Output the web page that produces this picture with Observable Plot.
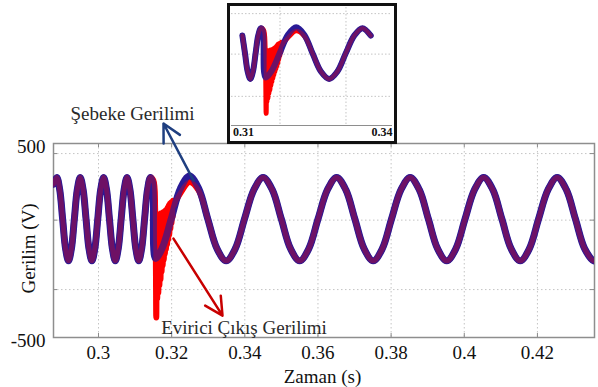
<!DOCTYPE html>
<html><head><meta charset="utf-8">
<script src="https://cdn.jsdelivr.net/npm/d3@7"></script>
<script src="https://cdn.jsdelivr.net/npm/@observablehq/plot@0.6"></script>
<style>
html,body{margin:0;padding:0;background:#fff;}
#wrap{position:relative;width:598px;height:387px;overflow:hidden;}
#main{position:absolute;left:0;top:0;}
#inset{position:absolute;left:227px;top:3px;width:170px;height:141px;box-sizing:border-box;border:3.5px solid #111;background:#fff;}
#inset svg{display:block;}
</style></head><body>
<div id="wrap"><div id="main"></div><div id="inset"></div></div>
<script>
// ---- tick values / labels ----
const xTicks = [0.3, 0.32, 0.34, 0.36, 0.38, 0.4, 0.42];
const xTickLabels = ["0.3", "0.32", "0.34", "0.36", "0.38", "0.4", "0.42"];
const yTicks = [-500, 500];
const yTickLabels = ["-500", "500"];
const gridY = [448, 105, -253];
const insetGridT = [0.32, 0.34];
const insetTickLabels = ["0.31", "0.34"];

// ---- waveform samples (time s, voltage V) ----
// shared part before the transition (both waveforms overlap)
const preT = [0.2877,0.2886,0.2894,0.2902,0.2910,0.2918,0.2926,0.2934,0.2942,0.2950,0.2958,0.2966,0.2974,0.2982,0.2990,0.2998,0.3006,0.3014,0.3022,0.3030,0.3038,0.3046,0.3054,0.3062,0.3070,0.3078,0.3086,0.3094,0.3102,0.3110,0.3118,0.3126,0.3134,0.3142];
const preV = [290,325,262,110,-42,-105,-42,110,262,325,262,110,-42,-105,-42,110,262,325,262,110,-42,-105,-42,110,262,325,262,110,-42,-105,-42,110,262,325];
// grid voltage around the transition
const gridTransT = [0.3148,0.3156,0.3174,0.3199,0.3224,0.3249,0.3274];
const gridTransV = [300,-92,-40,112,268,332,268];
// inverter output around the transition
const invTransT = [0.3150,0.3155,0.3158,0.3159,0.31605,0.3162,0.31635,0.3165,0.31665,0.3168,0.31695,0.3171,0.31725,0.3174,0.31755,0.3177,0.31785,0.3180,0.31815,0.3183,0.31845,0.3186,0.31875,0.3189,0.31905,0.3192,0.31935,0.3195,0.31965,0.3198,0.31995,0.3201,0.32025,0.3204,0.3207,0.3212,0.3224,0.3249,0.3274];
const invTransV = [310,150,-397,130,-300,135,-270,130,-230,135,-200,140,-160,140,-130,145,-100,150,-70,155,-45,160,-20,170,5,180,30,190,60,195,90,200,120,205,180,205,245,302,258];
// shared part after the transition
const postT = [0.3299,0.3324,0.3349,0.3374,0.3399,0.3425,0.3450,0.3475,0.3500,0.3525,0.3550,0.3575,0.3600,0.3626,0.3651,0.3676,0.3701,0.3726,0.3751,0.3776,0.3801,0.3827,0.3852,0.3877,0.3902,0.3927,0.3952,0.3977,0.4002,0.4028,0.4053,0.4078,0.4103,0.4128,0.4153,0.4178,0.4203,0.4229,0.4254,0.4279,0.4304,0.4329,0.4354,0.4360];
const postV = [110,-42,-105,-42,110,262,325,262,110,-42,-105,-42,110,262,325,262,110,-42,-105,-42,110,262,325,262,110,-42,-105,-42,110,262,325,262,110,-42,-105,-42,110,262,325,262,110,-42,-105,-100];

// ---- annotations ----
const annoLabels = ["Şebeke Gerilimi", "Evirici Çıkış Gerilimi"];
const annoT = [0.3093, 0.33978];
const annoV = [653, -450];
const arrowT1 = [0.3260, 0.3205];
const arrowV1 = [309, 10];
const arrowT2 = [0.31777, 0.3339];
const arrowV2 = [603, -387];
const arrowColors = ["#1f3f80", "#c80000"];
const xLabel = "Zaman (s)";
const yLabel = "Gerilim (V)";

// ---- build tables ----
const toRows = (T, V) => T.map((t, i) => ({t, v: V[i]}));
const gridWave = [...toRows(preT, preV), ...toRows(gridTransT, gridTransV), ...toRows(postT, postV)];
const invWave = [...toRows(preT, preV), ...toRows(invTransT, invTransV), ...toRows(postT, postV)];
const annos = annoLabels.map((s, i) => ({s, t: annoT[i], v: annoV[i]}));
const arrows = arrowT1.map((t, i) => ({t1: t, v1: arrowV1[i], t2: arrowT2[i], v2: arrowV2[i], c: arrowColors[i]}));

const BLUE = "#2a1a96", RED = "#ff0000";
const font = "'Liberation Serif', 'Times New Roman', serif";

function waveMarks(data, wBlue, wRedUnder, wRedTop) {
  return [
    Plot.line(data.inv, {x: "t", y: "v", stroke: RED, strokeWidth: wRedUnder, curve: "catmull-rom", clip: true}),
    Plot.line(data.grid, {x: "t", y: "v", stroke: BLUE, strokeWidth: wBlue, curve: "catmull-rom", clip: true}),
    Plot.line(data.inv, {x: "t", y: "v", stroke: RED, strokeOpacity: 0.32, strokeWidth: wRedTop, curve: "catmull-rom", clip: true})
  ];
}

const main = Plot.plot({
  width: 598, height: 387,
  marginLeft: 53, marginRight: 4, marginTop: 143, marginBottom: 50,
  x: {domain: [0.2877, 0.4356]},
  y: {domain: [-500, 500]},
  style: {fontFamily: font, fontSize: "19px", color: "#111", background: "transparent", overflow: "visible"},
  marks: [
    Plot.ruleX(xTicks, {stroke: "#c4c4c4", strokeDasharray: "1.5,2.5"}),
    Plot.ruleY(gridY, {stroke: "#c4c4c4", strokeDasharray: "1.5,2.5"}),
    Plot.ruleX(xTicks, {stroke: "#8a8a8a", insetBottom: 190}),
    Plot.ruleX(xTicks, {stroke: "#8a8a8a", insetTop: 190}),
    Plot.ruleY(gridY, {stroke: "#8a8a8a", insetRight: 537}),
    Plot.ruleY(gridY, {stroke: "#8a8a8a", insetLeft: 537}),
    Plot.frame({stroke: "#8e8e8e", strokeWidth: 1.5}),
    ...waveMarks({grid: gridWave, inv: invWave}, 7, 6, 5),
    Plot.arrow(arrows, {x1: "t1", y1: "v1", x2: "t2", y2: "v2", stroke: "c", strokeWidth: 2.5, headLength: 12, headAngle: 55}),
    Plot.text(annos, {x: "t", y: "v", text: "s", fill: "#2a2a2a", fontSize: 19}),
    Plot.axisX({ticks: xTicks, tickSize: 0, tickPadding: 7.5, tickFormat: d => xTickLabels[xTicks.indexOf(d)], label: null, fontSize: 19}),
    Plot.axisY({ticks: yTicks, tickSize: 0, tickPadding: 8, dy: 3, tickFormat: d => yTickLabels[yTicks.indexOf(d)], label: null, fontSize: 19}),
    Plot.text([xLabel], {x: 0.36124, y: -701, text: d => d, fill: "#111", fontSize: 19}),
    Plot.text([yLabel], {x: 0.2809, y: -41, text: d => d, rotate: -90, fill: "#111", fontSize: 19})
  ]
});
document.getElementById("main").appendChild(main);

// ---- inset (zoom of the transition) ----
const tMin = 0.3082, tMax = 0.3482;
const inset = Plot.plot({
  width: 163, height: 134,
  marginLeft: 1, marginRight: 1, marginTop: 1, marginBottom: 15,
  x: {domain: [0.3053, 0.3541], axis: null},
  y: {domain: [-500, 500], axis: null},
  style: {fontFamily: font, background: "#fff", color: "#111", overflow: "visible"},
  marks: [
    Plot.ruleX(insetGridT, {stroke: "#c4c4c4", strokeDasharray: "1.5,2"}),
    Plot.ruleY(gridY, {stroke: "#c4c4c4", strokeDasharray: "1.5,2"}),
    Plot.ruleY([-500], {stroke: "#8e8e8e", strokeWidth: 1.2}),
    ...waveMarks({
      grid: gridWave.filter(d => d.t >= tMin && d.t <= tMax),
      inv: invWave.filter(d => d.t >= tMin && d.t <= tMax)
    }, 6, 5, 4),
    Plot.text([insetTickLabels[0]], {frameAnchor: "bottom-left", text: d => d, textAnchor: "start", lineAnchor: "top", dx: 1.5, dy: 2, fontSize: 12, fontWeight: "bold", fill: "#111"}),
    Plot.text([insetTickLabels[1]], {frameAnchor: "bottom-right", text: d => d, textAnchor: "end", lineAnchor: "top", dx: 0, dy: 2, fontSize: 12, fontWeight: "bold", fill: "#111"})
  ]
});
document.getElementById("inset").appendChild(inset);
</script>
</body></html>
